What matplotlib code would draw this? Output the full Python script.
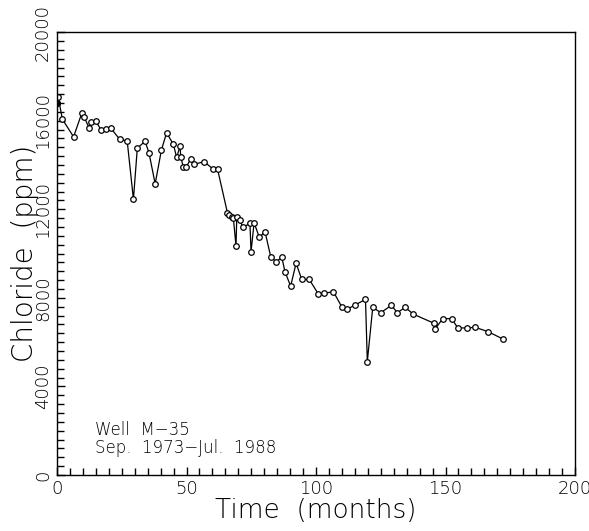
import matplotlib
matplotlib.use("Agg")
import matplotlib.pyplot as plt
from matplotlib.ticker import MultipleLocator

# Well M-35 chloride record
months = [0.1, 0.5, 2.05, 6.4, 9.65, 10.4, 12.5, 13.2, 15.1, 17.0, 18.9, 20.7,
          24.2, 27.1, 29.5, 31.0, 34.0, 35.5, 37.9, 40.3, 42.3, 44.9, 46.2,
          47.5, 47.8, 48.8, 49.8, 51.6, 52.9, 56.8, 60.4, 62.0, 65.8, 66.5,
          67.4, 68.1, 69.1, 69.4, 70.7, 71.7, 74.5, 74.9, 76.1, 78.1, 80.3,
          82.5, 84.6, 86.8, 88.0, 90.2, 92.3, 94.5, 97.4, 100.9, 103.1, 106.7,
          109.9, 111.9, 115.1, 119.1, 119.8, 121.9, 125.0, 129.1, 131.4, 134.4,
          137.6, 145.6, 146.1, 148.9, 152.4, 154.7, 158.4, 161.4, 166.5, 172.3]
chloride = [16800, 17050, 16070, 15270, 16370, 16180, 15650, 15940, 15970,
            15580, 15640, 15670, 15160, 15080, 12450, 14760, 15070, 14550,
            13150, 14670, 15450, 14940, 14340, 14850, 14350, 13890, 13890,
            14270, 14030, 14150, 13800, 13800, 11840, 11740, 11660, 11590,
            10340, 11630, 11510, 11180, 11360, 10080, 11390, 10730, 10990,
            9860, 9630, 9830, 9180, 8530, 9560, 8830, 8830, 8170, 8200, 8280,
            7600, 7480, 7680, 7930, 5120, 7570, 7330, 7660, 7330, 7570, 7260,
            6850, 6610, 7060, 7060, 6640, 6640, 6670, 6470, 6130]

fig = plt.figure(figsize=(5.89, 5.31), dpi=100)
ax = fig.add_axes([0.0968, 0.1055, 0.8795, 0.834])

ax.plot(months, chloride, color='black', linewidth=0.9,
        marker='o', markersize=4, markerfacecolor='white',
        markeredgecolor='black', markeredgewidth=0.9)
# first sample drawn filled
ax.plot(months[0], chloride[0], marker='o', markersize=4, color='black')

ax.set_xlim(0, 200)
ax.set_ylim(0, 20000)
ax.xaxis.set_major_locator(MultipleLocator(50))
ax.xaxis.set_minor_locator(MultipleLocator(5))
ax.yaxis.set_major_locator(MultipleLocator(4000))
ax.yaxis.set_minor_locator(MultipleLocator(400))

ax.tick_params(which='both', direction='in', top=False, right=False,
               labelsize=13, width=1)
ax.tick_params(which='major', length=6)
ax.tick_params(which='minor', length=5)
ax.tick_params(axis='y', labelrotation=90)
for lab in ax.get_yticklabels():
    lab.set_va('center')
for lab in ax.get_xticklabels() + ax.get_yticklabels():
    lab.set_fontweight('light')

for s in ax.spines.values():
    s.set_linewidth(1)

ax.set_xlabel('Time  (months)', fontsize=19, labelpad=0, fontweight='light')
ax.set_ylabel('Chloride  (ppm)', fontsize=20, fontweight='light')
ax.yaxis.set_label_coords(-0.035, 0.5)

ax.text(0.074, 0.04, 'Well  M\u221235\nSep.  1973\u2212Jul.  1988',
        transform=ax.transAxes, fontsize=12, va='bottom', ha='left',
        linespacing=1.05, fontweight='light')

plt.savefig('out.png', dpi=100)
plt.close()
